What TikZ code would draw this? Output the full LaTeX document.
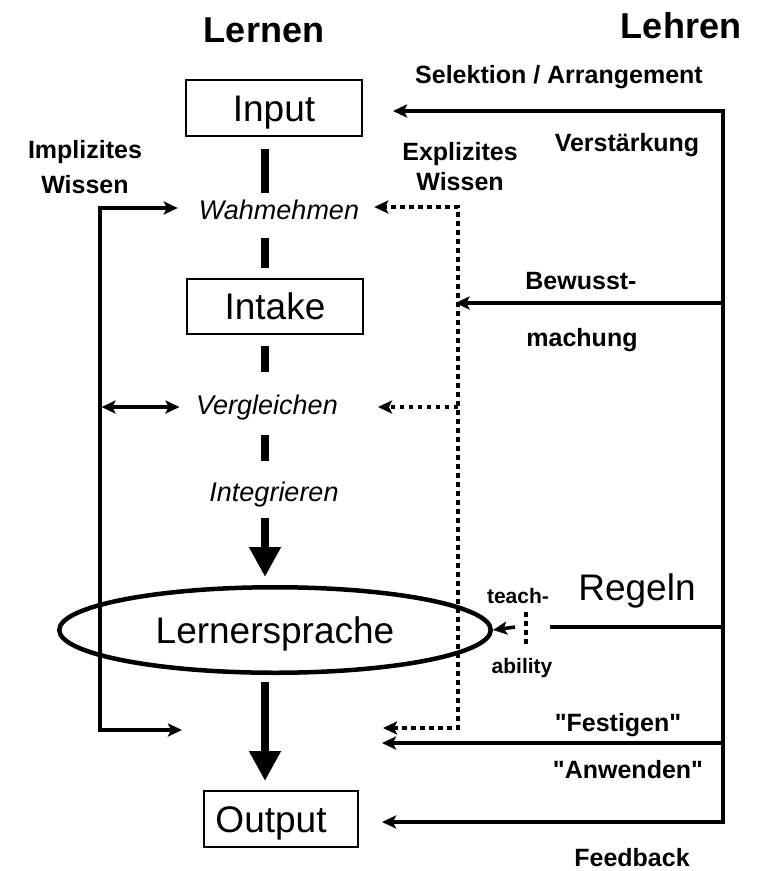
\documentclass[tikz,border=0pt]{standalone}
\usepackage{fontspec}
\setmainfont{Liberation Sans}[Ligatures=TeXOff]
\usetikzlibrary{arrows.meta,shapes.geometric}
\begin{document}
\begin{tikzpicture}[x=1pt,y=-1pt,
  >={Stealth[length=14pt,width=13pt,inset=3pt]},
  lbl/.style={anchor=base,inner sep=0pt,font=\fontsize{25}{30}\selectfont\bfseries},
  ttl/.style={anchor=base,inner sep=0pt,font=\fontsize{36}{43}\selectfont\bfseries},
  proc/.style={anchor=base,inner sep=0pt,font=\fontsize{27}{32}\selectfont\itshape},
  smalllbl/.style={anchor=base,inner sep=0pt,font=\fontsize{21}{25}\selectfont\bfseries},
  bigtext/.style={inner sep=0pt,font=\fontsize{37}{44}\selectfont,text height=26.5pt,text depth=0pt},
  boxnode/.style={bigtext,draw,line width=2pt},
  conn/.style={line width=3.5pt,line join=miter},
  dots/.style={line width=4.5pt,dash pattern=on 4.5pt off 4.5pt,line join=miter},
  dashseg/.style={line width=8pt},
  bigarrow/.style={line width=8pt,-{Triangle[length=30pt,width=30pt]}},
]
\useasboundingbox (0,0) rectangle (764,871);

% titles
\node[ttl] (lernen) at (264,42) {Lernen};
\node[ttl] (lehren) at (681,38) {Lehren};

% main boxes
\node[boxnode,minimum width=176pt,minimum height=56pt] (input) at (274,108) {Input};
\node[boxnode,minimum width=176pt,minimum height=55pt] (intake) at (275,306.5) {Intake};
\node[boxnode,minimum width=154pt,minimum height=56pt] (output) at (281,819) {\hspace*{-20pt}Output};
\node[bigtext,ellipse,draw,line width=4.5pt,minimum width=431.5pt,minimum height=85.5pt] (ls) at (275,630) {Lernersprache};

% process labels
\node[proc] (wahm) at (279,219.5) {Wahmehmen};
\node[proc] (vergl) at (267,414) {Vergleichen};
\node[proc] (integ) at (274,501) {Integrieren};

% side labels
\node[lbl] (impl1) at (85,158) {Implizites};
\node[lbl] (impl2) at (85,193) {Wissen};
\node[lbl] (expl1) at (460,160) {Explizites};
\node[lbl] (expl2) at (460,190) {Wissen};
\node[lbl] (sel) at (559,83) {Selektion / Arrangement};
\node[lbl] (verst) at (627,151) {Verstärkung};
\node[lbl] (bew) at (581,289) {Bewusst-};
\node[lbl] (mach) at (582,346) {machung};
\node[bigtext,anchor=base,text height=,text depth=] (regeln) at (637,600) {Regeln};
\node[smalllbl] (teach) at (518,603) {teach-};
\node[smalllbl] (abil) at (522,673) {ability};
\node[lbl] (fest) at (618,731) {"Festigen"};
\node[lbl] (anw) at (628,778) {"Anwenden"};
\node[lbl] (feed) at (632,866) {Feedback};

% spine of the learning chain
\coordinate (spine) at (265,0);
\draw[dashseg,shorten <=12pt,shorten >=7pt] (input.south -| spine) -- (wahm.north -| spine);
\draw[dashseg,shorten <=18.5pt,shorten >=10pt] (wahm.south -| spine) -- (intake.north -| spine);
\draw[dashseg,shorten <=11pt,shorten >=22pt] (intake.south -| spine) -- (vergl.north -| spine);
\draw[dashseg,shorten <=15pt,shorten >=20pt] (vergl.south -| spine) -- (integ.north -| spine);
\draw[bigarrow,shorten <=11pt,shorten >=8pt] (integ.south -| spine) -- (ls.north -| spine);
\draw[bigarrow,shorten <=7pt,shorten >=9pt] (ls.south -| spine) -- (output.north -| spine);

% implicit knowledge (left)
\coordinate (lTop) at (100,208);
\coordinate (lBot) at (100,730);
\coordinate (freeL) at (182,730);
\draw[conn,<->,shorten >=21pt] (freeL) -- (lBot) -- (lTop) -- (wahm.west |- lTop);
\draw[conn,<->,shorten <=1.5pt,shorten >=16.5pt] (vergl.west -| lTop) -- (vergl.west);

% explicit knowledge (dotted)
\coordinate (dTop) at (458,207);
\coordinate (dBot) at (458,728);
\coordinate (freeD) at (383,728);
\draw[dots,<->,shorten >=15pt] (freeD) -- (dBot) -- (dTop) -- (wahm.east |- dTop);
\draw[dots,->,shorten >=40pt] (vergl.east -| dTop) -- (vergl.east);

% teaching (right)
\coordinate (rTop) at (723,111);
\coordinate (rBot) at (723,822);
\draw[conn,<->,shorten <=23pt,shorten >=30pt] (output.east |- rBot) -- (rBot) -- (rTop) -- (input.east |- rTop);
\coordinate (rBew) at (723,303);
\draw[conn,->,shorten >=-2.5pt] (rBew) -- (rBew -| dTop);
\coordinate (rReg) at (723,627);
\coordinate (regStart) at (550,627);
\draw[conn] (rReg) -- (regStart);
\coordinate (tStart) at (515,627);
\draw[conn,->] (tStart) -- (ls.east);
\coordinate (tdTop) at (526,612);
\coordinate (tdBot) at (526,647);
\draw[dots] (tdTop) -- (tdBot);
\coordinate (rFest) at (723,743);
\coordinate (freeF) at (382,743);
\draw[conn,->] (rFest) -- (freeF);
\end{tikzpicture}
\end{document}
